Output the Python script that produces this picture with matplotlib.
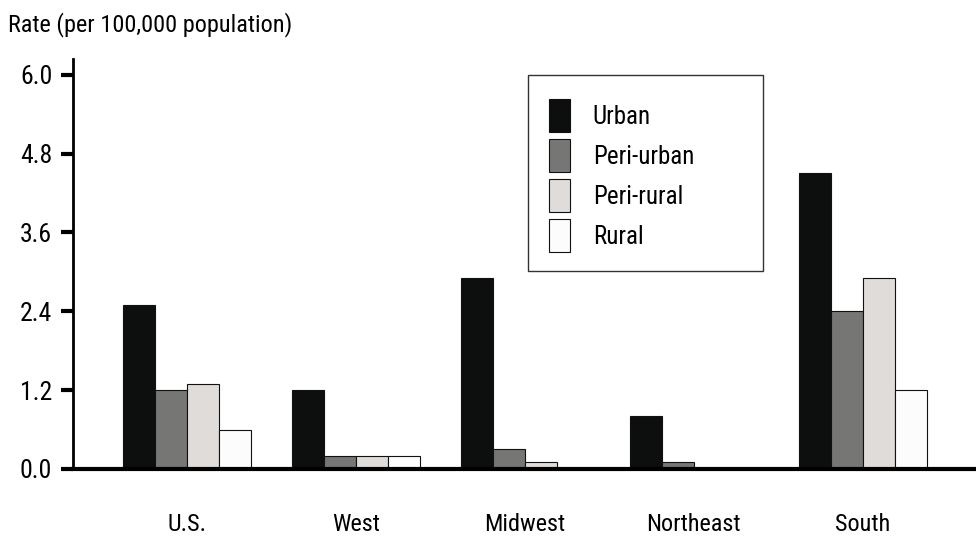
import numpy as np
import matplotlib
matplotlib.use('Agg')
import matplotlib.pyplot as plt
from matplotlib import font_manager
from matplotlib.patches import Rectangle

# ── Data ──────────────────────────────────────────────────────────────────────
regions = ['U.S.', 'West', 'Midwest', 'Northeast', 'South']
series = ['Urban', 'Peri-urban', 'Peri-rural', 'Rural']
urban      = [2.5, 1.2, 2.9, 0.8, 4.5]
peri_urban = [1.2, 0.2, 0.3, 0.1, 2.4]
peri_rural = [1.3, 0.2, 0.1, 0.0, 2.9]
rural      = [0.6, 0.2, 0.0, 0.0, 1.2]
yticks = [0.0, 1.2, 2.4, 3.6, 4.8, 6.0]

colors = ['#0d0f0e', '#767674', '#dfdcd9', '#fdfcfd']

# condensed font if installed
names = {f.name for f in font_manager.fontManager.ttflist}
fam = 'DejaVu Sans'
for cand in ['Roboto Condensed', 'Archivo Narrow', 'DejaVu Sans Condensed']:
    if cand in names:
        fam = cand
        break
plt.rcParams['font.family'] = [fam, 'DejaVu Sans']

fig = plt.figure(figsize=(9.76, 5.39), dpi=100)
ax = fig.add_axes([0.0748, 0.13, 0.9252, 0.7605])

x = np.arange(len(regions))
width = 0.19
values = [urban, peri_urban, peri_rural, rural]
for i, (vals, name, c) in enumerate(zip(values, series, colors)):
    ax.bar(x + (i - 1.5) * width, vals, width, color=c, edgecolor='#111111',
           linewidth=0.8, label=name)

ax.set_xlim(-0.675, 4.67)
ax.set_ylim(0, 6.24)
ax.set_yticks(yticks)
ax.set_yticklabels([f'{v:.1f}' for v in yticks], fontsize=18.5)
ax.set_xticks(x)
ax.set_xticklabels(regions, fontsize=17.5)
ax.tick_params(axis='x', length=0, pad=32)
ax.tick_params(axis='y', direction='out', length=9, width=3, pad=6)

for s in ['top', 'right']:
    ax.spines[s].set_visible(False)
ax.spines['left'].set_linewidth(2)
ax.spines['bottom'].set_linewidth(3)

fig.text(0.008, 0.9536, 'Rate (per 100,000 population)', fontsize=17.5, va='center')

# legend without its own frame; the box is drawn separately so it can be wider
leg = ax.legend(loc='upper left', bbox_to_anchor=(0.527, 0.902), fontsize=18,
                frameon=False, handlelength=0.85, handleheight=1.65,
                handletextpad=0.9, labelspacing=0.28, borderpad=0,
                borderaxespad=0)
ax.add_patch(Rectangle((0.5039, 0.483), 0.2602, 0.478, transform=ax.transAxes,
                       fill=False, edgecolor='#333333', linewidth=1.0,
                       clip_on=False, zorder=5))

fig.savefig('out.png', dpi=100)
